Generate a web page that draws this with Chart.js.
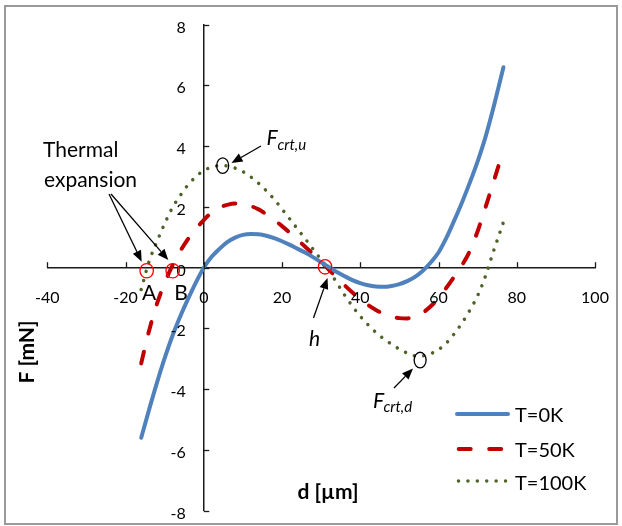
<!DOCTYPE html>
<html>
<head>
<meta charset="utf-8">
<script src="https://cdn.jsdelivr.net/npm/chart.js@4.4.1/dist/chart.umd.min.js"></script>
<style>
  body { margin: 0; background: #fff; }
  #wrap { width: 622px; height: 526px; }
</style>
</head>
<body>
<div id="wrap"><canvas id="myChart" width="622" height="526"></canvas></div>
<script>
// tick labels
const xTicks = [-40, -20, 0, 20, 40, 60, 80, 100];
const yTicks = [-8, -6, -4, -2, 0, 2, 4, 6, 8];

// series
const seriesNames = ['T=0K', 'T=50K', 'T=100K'];
const dValues = [-16, -14, -12, -10, -8, -6, -4, -2, 0, 2, 4, 6, 8, 10, 12, 14, 16, 18, 20, 22, 24, 26, 28, 30,
  32, 34, 36, 38, 40, 42, 44, 46, 48, 50, 52, 54, 56, 58, 60, 62, 64, 66, 68, 70, 72, 74, 76.6];
const f0K = [-5.6, -4.68, -3.8, -2.98, -2.24, -1.6, -1.02, -0.48, 0, 0.36, 0.62, 0.84, 0.99, 1.08, 1.11, 1.1, 1.05, 0.97, 0.87, 0.75, 0.62, 0.49, 0.34, 0.18,
  0.02, -0.14, -0.28, -0.41, -0.51, -0.58, -0.62, -0.63, -0.6, -0.54, -0.44, -0.3, -0.1, 0.17, 0.5, 0.98, 1.55, 2.15, 2.8, 3.5, 4.3, 5.25, 6.6];
const f50K = [-3.15, -2.08, -1.2, -0.5, 0.08, 0.55, 0.95, 1.28, 1.57, 1.82, 1.98, 2.07, 2.11, 2.1, 2.03, 1.92, 1.76, 1.57, 1.37, 1.15, 0.92, 0.68, 0.44, 0.19,
  -0.07, -0.33, -0.58, -0.82, -1.04, -1.23, -1.39, -1.52, -1.61, -1.66, -1.67, -1.61, -1.48, -1.27, -0.99, -0.66, -0.3, 0.08, 0.55, 1.2, 1.98, 2.8, 3.87];
const f100K = [-0.72, 0.2, 0.85, 1.45, 1.98, 2.38, 2.73, 3.0, 3.2, 3.31, 3.36, 3.35, 3.28, 3.16, 2.99, 2.78, 2.53, 2.25, 1.93, 1.6, 1.27, 0.94, 0.6, 0.26,
  -0.08, -0.5, -0.9, -1.27, -1.6, -1.88, -2.13, -2.34, -2.52, -2.68, -2.81, -2.9, -2.9, -2.83, -2.7, -2.48, -2.18, -1.82, -1.4, -0.92, -0.28, 0.52, 1.5];

// marked points (d, F)
const redMarks = [[-14.6, -0.1], [-7.95, -0.1], [31, 0.03]];
const blackMarks = [[4.83, 3.36], [55.3, -3.04]];

const axisColor = '#1a1a1a';
const tickFont = '16px Lato';

function toPoints(ys) {
  return dValues.map((d, i) => ({ x: d, y: ys[i] }));
}

function arrow(ctx, x1, y1, x2, y2) {
  const ang = Math.atan2(y2 - y1, x2 - x1);
  const len = 11, half = 4.5;
  const bx = x2 - len * Math.cos(ang), by = y2 - len * Math.sin(ang);
  ctx.beginPath();
  ctx.moveTo(x1, y1);
  ctx.lineTo(bx, by);
  ctx.stroke();
  ctx.beginPath();
  ctx.moveTo(x2, y2);
  ctx.lineTo(bx + half * Math.sin(ang), by - half * Math.cos(ang));
  ctx.lineTo(bx - half * Math.sin(ang), by + half * Math.cos(ang));
  ctx.closePath();
  ctx.fill();
}

function ellipse(ctx, cx, cy, rx, ry, color) {
  ctx.strokeStyle = color;
  ctx.lineWidth = 1.3;
  ctx.beginPath();
  ctx.ellipse(cx, cy, rx, ry, 0, 0, Math.PI * 2);
  ctx.stroke();
}

const decor = {
  id: 'decor',
  beforeDraw(chart) {
    const ctx = chart.ctx;
    ctx.save();
    ctx.fillStyle = '#fff';
    ctx.fillRect(0, 0, chart.width, chart.height);
    ctx.strokeStyle = '#9a9a9a';
    ctx.lineWidth = 2;
    ctx.strokeRect(5, 6, 612, 518);
    ctx.restore();
  },
  afterDraw(chart) {
    const { ctx, scales: { x, y } } = chart;
    const x0 = x.getPixelForValue(0);
    const y0 = y.getPixelForValue(0);
    ctx.save();

    // tick marks and labels
    ctx.strokeStyle = axisColor;
    ctx.lineWidth = 1.3;
    ctx.fillStyle = '#000';
    ctx.font = tickFont;
    ctx.textBaseline = 'alphabetic';
    ctx.textAlign = 'center';
    xTicks.forEach(v => {
      const px = Math.round(x.getPixelForValue(v)) + 0.5;
      ctx.beginPath(); ctx.moveTo(px, y0); ctx.lineTo(px, y0 - 5.5); ctx.stroke();
      ctx.fillText(String(v), x.getPixelForValue(v), y0 + 35);
    });
    ctx.textAlign = 'right';
    yTicks.forEach(v => {
      const py = Math.round(y.getPixelForValue(v)) + 0.5;
      ctx.beginPath(); ctx.moveTo(x0, py); ctx.lineTo(x0 + 5.5, py); ctx.stroke();
      ctx.fillText(String(v), x0 - 18, y.getPixelForValue(v) + 8);
    });

    // axis titles
    ctx.font = 'bold 21px Lato';
    ctx.textAlign = 'center';
    ctx.textBaseline = 'middle';
    ctx.fillText('d [\u00b5m]', 328, 492);
    ctx.save();
    ctx.translate(27, 352);
    ctx.rotate(-Math.PI / 2);
    ctx.fillText('F [mN]', 0, 0);
    ctx.restore();

    // marked points
    redMarks.forEach(([d, f]) => ellipse(ctx, x.getPixelForValue(d), y.getPixelForValue(f), 6.7, 7.2, '#ff0000'));
    blackMarks.forEach(([d, f]) => ellipse(ctx, x.getPixelForValue(d), y.getPixelForValue(f), 6, 7.8, '#000'));

    // arrows
    ctx.strokeStyle = '#000';
    ctx.fillStyle = '#000';
    ctx.lineWidth = 1.3;
    arrow(ctx, 109, 194, 141.7, 261.7);
    arrow(ctx, 111, 194, 168.3, 260);
    arrow(ctx, 261, 146, 231.5, 163);
    arrow(ctx, 313.5, 318, 327.5, 278);
    arrow(ctx, 394, 388, 413, 368.5);

    // annotation text
    ctx.textBaseline = 'alphabetic';
    ctx.textAlign = 'left';
    ctx.font = '21px Lato';
    ctx.fillText('Thermal', 43, 157.3);
    ctx.fillText('expansion', 44, 186.7);
    ctx.textAlign = 'center';
    ctx.fillText('A', 149, 300);
    ctx.fillText('B', 181, 300);
    ctx.font = 'italic 21px Lato';
    ctx.fillText('h', 314.5, 345.6);
    ctx.textAlign = 'left';
    ctx.fillText('F', 266.5, 145);
    ctx.fillText('F', 373, 407.7);
    ctx.font = 'italic 15px Lato';
    ctx.fillText('crt,u', 277.5, 149.5);
    ctx.fillText('crt,d', 383.5, 411.5);

    // legend
    const rows = [414, 449, 481];
    const texts = [415.7, 450.3, 484];
    chart.data.datasets.forEach((ds, i) => {
      ctx.strokeStyle = ds.borderColor;
      ctx.lineWidth = ds.borderWidth;
      ctx.lineCap = ds.borderCapStyle || 'butt';
      ctx.setLineDash(ds.borderDash || []);
      ctx.beginPath();
      if (i === 0) { ctx.moveTo(457, rows[i]); ctx.lineTo(508, rows[i]); }
      else if (i === 1) { ctx.moveTo(458.7, rows[i]); ctx.lineTo(503, rows[i]); }
      else { ctx.moveTo(458.5, rows[i]); ctx.lineTo(507, rows[i]); }
      ctx.stroke();
      ctx.setLineDash([]);
      ctx.fillStyle = '#000';
      ctx.font = '20px Lato';
      ctx.textBaseline = 'middle';
      ctx.fillText(ds.label, 515, texts[i]);
    });
    ctx.restore();
  }
};

function drawChart() {
  const ctx = document.getElementById('myChart');
  new Chart(ctx, {
    type: 'line',
    data: {
      datasets: [
        { label: seriesNames[0], data: toPoints(f0K), borderColor: '#4f81bd', borderWidth: 4, borderCapStyle: 'round' },
        { label: seriesNames[1], data: toPoints(f50K), borderColor: '#c00000', borderWidth: 4, borderDash: [12, 18.5], borderCapStyle: 'round' },
        { label: seriesNames[2], data: toPoints(f100K), borderColor: '#4f6228', borderWidth: 3.5, borderDash: [0.01, 9.4], borderCapStyle: 'round' }
      ]
    },
    options: {
      responsive: false,
      animation: false,
      layout: { padding: { left: 47.3, right: 27, top: 24.7, bottom: 15.3 } },
      elements: { point: { radius: 0 }, line: { cubicInterpolationMode: 'monotone', fill: false } },
      plugins: { legend: { display: false }, tooltip: { enabled: false } },
      scales: {
        x: {
          type: 'linear', min: -40, max: 100, position: { y: 0 },
          afterBuildTicks: s => { s.ticks = xTicks.map(v => ({ value: v })); },
          ticks: { display: false },
          grid: { display: true, drawOnChartArea: false, drawTicks: false },
          border: { display: true, color: axisColor, width: 1.5 }
        },
        y: {
          type: 'linear', min: -8, max: 8, position: { x: 0 },
          afterBuildTicks: s => { s.ticks = yTicks.map(v => ({ value: v })); },
          ticks: { display: false },
          grid: { display: true, drawOnChartArea: false, drawTicks: false },
          border: { display: true, color: axisColor, width: 1.5 }
        }
      }
    },
    plugins: [decor]
  });
}

document.fonts.load('16px Lato').then(drawChart, drawChart);
</script>
</body>
</html>
